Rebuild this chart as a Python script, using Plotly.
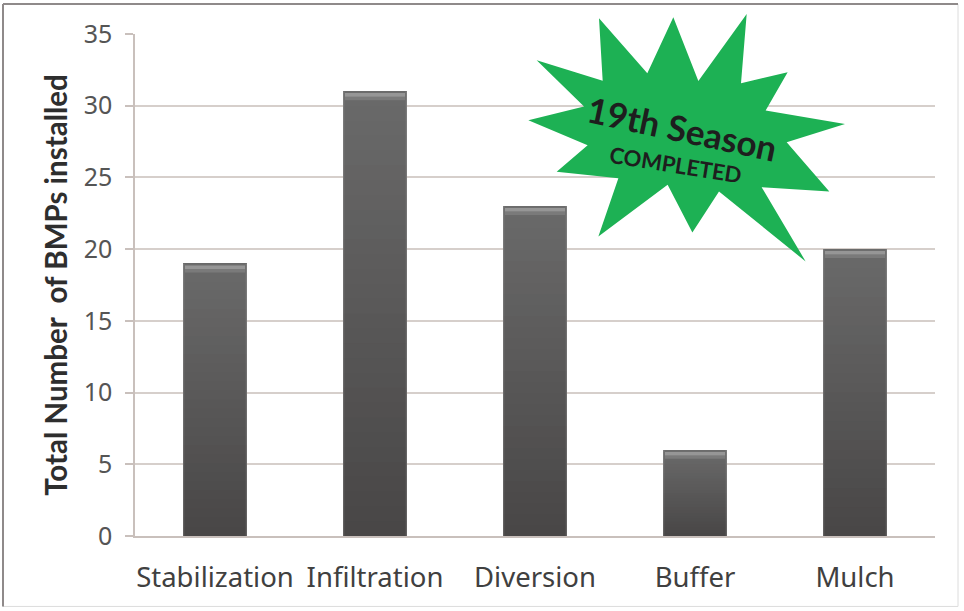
import plotly.graph_objects as go

categories = ["Stabilization", "Infiltration", "Diversion", "Buffer", "Mulch"]
bmp_counts = [19, 31, 23, 6, 20]
y_ticks = [0, 5, 10, 15, 20, 25, 30, 35]
y_title = "Total Number  of BMPs installed"
badge_title = "19th Season"
badge_sub = "COMPLETED"

W, H = 964, 611
L, R, T, B = 135, 935, 34, 536.5
BAR_W = 0.4


def px(x):
    return (x - L) / (R - L)


def py(y):
    return (B - y) / (B - T)


star_px = [(237, 55), (382, 220), (460, 52), (535, 243), (680, 42), (663, 250), (803, 217),
           (737, 332), (975, 372), (800, 427), (928, 575), (725, 562), (857, 785), (597, 575),
           (517, 698), (443, 555), (235, 710), (295, 535), (110, 516), (203, 436), (25, 361),
           (192, 320), (50, 181), (248, 242)]
star_path = "M " + " L ".join(f"{px(520 + a / 3):.4f},{py(b / 3):.4f}" for a, b in star_px) + " Z"

shapes = []


def lerp(c1, c2, t):
    v = [round(a + (b - a) * t) for a, b in zip(c1, c2)]
    return f"rgb({v[0]},{v[1]},{v[2]})"


def bar_rect(i, y0, y1, color, dx0=0.0, dx1=0.0):
    return dict(type="rect", xref="x", yref="y", layer="above", line_width=0,
                x0=i - BAR_W / 2 + dx0, x1=i + BAR_W / 2 + dx1, y0=y0, y1=y1, fillcolor=color)


N = 30
for i, v in enumerate(bmp_counts):
    for k in range(N):
        shapes.append(bar_rect(i, v * k / N, v, lerp((72, 70, 70), (106, 106, 106), (k + .5) / N)))
    # bevel along the top edge
    shapes.append(bar_rect(i, v - 0.62, v - 0.38, "rgb(122,122,122)", 0.012, -0.012))
    shapes.append(bar_rect(i, v - 0.38, v - 0.12, "rgb(150,150,150)", 0.012, -0.012))
    shapes.append(bar_rect(i, v - 0.12, v, "rgb(108,108,108)"))
    # lighter side edges
    shapes.append(bar_rect(i, 0, v, "rgba(200,200,200,0.2)", 0, -(BAR_W - 0.008)))
    shapes.append(bar_rect(i, 0, v, "rgba(200,200,200,0.2)", BAR_W - 0.008, 0))

# outer frame
shapes.append(dict(type="rect", xref="paper", yref="paper", layer="below",
                   x0=px(3), x1=px(958), y0=py(607), y1=py(4),
                   line=dict(color="#dcdcdc", width=1), fillcolor="rgba(0,0,0,0)"))
shapes.append(dict(type="line", xref="paper", yref="paper", x0=px(3), x1=px(958), y0=py(4), y1=py(4),
                   line=dict(color="#8f8a8a", width=2)))
shapes.append(dict(type="line", xref="paper", yref="paper", x0=px(3), x1=px(3), y0=py(607), y1=py(4),
                   line=dict(color="#8f8a8a", width=2)))
# badge
shapes.append(dict(type="path", xref="paper", yref="paper", layer="above", path=star_path,
                   fillcolor="#1db154", line_width=0))

fig = go.Figure(go.Bar(x=categories, y=bmp_counts, width=BAR_W,
                       marker=dict(color="rgb(90,90,90)", line_width=0)))

fig.update_layout(
    width=W, height=H, autosize=False, showlegend=False,
    margin=dict(l=L, r=W - R, t=T, b=H - B),
    paper_bgcolor="white", plot_bgcolor="white",
    font=dict(family="Noto Sans", color="#404040"),
    shapes=shapes,
    xaxis=dict(type="category", range=[-0.5, 4.5], showgrid=False, showline=True,
               linecolor="#c9c0bc", linewidth=1.5, ticks="outside", ticklen=6,
               tickcolor="rgba(0,0,0,0)", ticklabelstandoff=10,
               tickfont=dict(size=27.5, color="#404040"), automargin=False),
    yaxis=dict(range=[0, 35], tickvals=y_ticks, showgrid=True, gridcolor="#d6cfcb", gridwidth=1.5,
               showline=True, linecolor="#c9c0bc", linewidth=1.5, zeroline=False,
               ticks="outside", ticklen=8, tickcolor="#c9c0bc", tickwidth=1.5,
               ticklabelstandoff=8,
               tickfont=dict(size=25, color="#555555"), automargin=False,
               title=dict(text=f"<b>{y_title}</b>", standoff=7,
                          font=dict(family="Lato", size=29.5, color="#2e2e2e"))),
    annotations=[
        dict(xref="paper", yref="paper", x=px(682), y=py(128), text=f"<b>{badge_title}</b>",
             xanchor="center", yanchor="middle",
             showarrow=False, textangle=12, font=dict(family="Lato", size=35, color="#1e1e1e")),
        dict(xref="paper", yref="paper", x=px(675), y=py(165), text=f"<b>{badge_sub}</b>",
             xanchor="center", yanchor="middle",
             showarrow=False, textangle=9, font=dict(family="Lato", size=22, color="#1e1e1e")),
    ],
)

fig.write_html("out.html", post_script="document.body.style.margin='0';",
               config={"displayModeBar": False})
